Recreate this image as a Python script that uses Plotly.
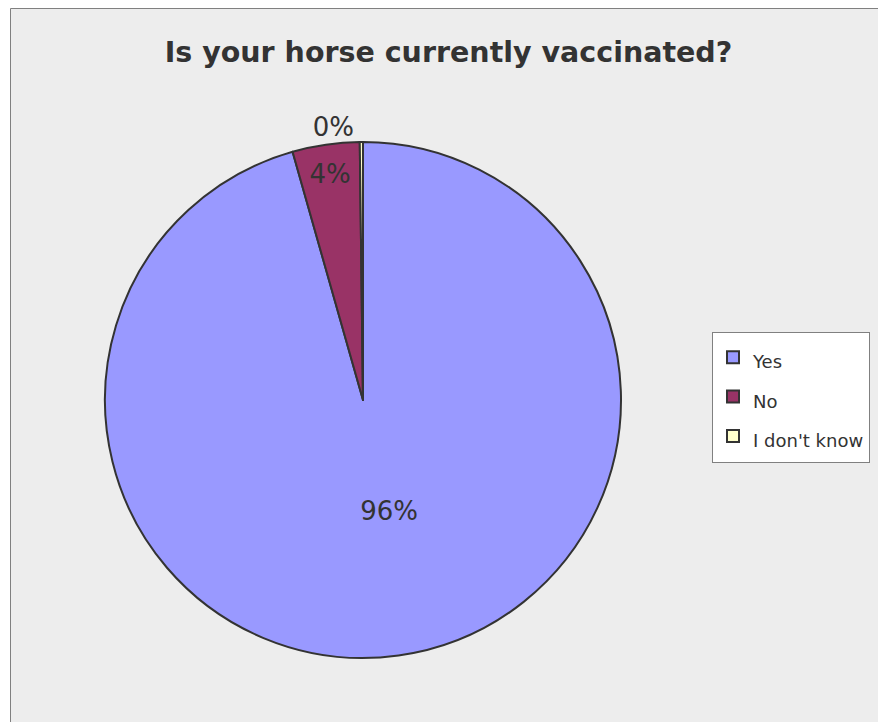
import plotly.graph_objects as go

labels = ["Yes", "No", "I don't know"]
values = [95.6, 4.2, 0.2]
colors = ["#9999FF", "#993366", "#FFFFCC"]
title_text = "Is your horse currently vaccinated?"

W, H = 878, 722
FONT = "DejaVu Sans, Verdana, sans-serif"
TXT = "#333333"
NB = "\u00a0"

legend_labels = ["<span style='font-size:18px'>" + l + "</span>" for l in labels]

fig = go.Figure()
fig.add_trace(go.Pie(
    labels=legend_labels,
    values=values,
    sort=False,
    direction="clockwise",
    rotation=0,
    marker=dict(colors=colors, line=dict(color="#333333", width=2)),
    texttemplate=[NB * 2 + "%{percent:.0%}<br> ", "%{percent:.0%}", "%{percent:.0%}"],
    textposition=["inside", "inside", "outside"],
    insidetextorientation="horizontal",
    textfont=dict(family=FONT, size=26, color=TXT),
    outsidetextfont=dict(family=FONT, size=26, color=TXT),
    domain=dict(x=[105 / W, 621 / W], y=[1 - 658 / H, 1 - 142 / H]),
    hoverinfo="percent",
))

fig.update_layout(
    width=W, height=H, autosize=False,
    margin=dict(l=0, r=0, t=0, b=0),
    paper_bgcolor="white",
    title=dict(text="<b>" + title_text + "</b>", x=448.5 / W, xanchor="center",
               y=1 - 52 / H, yanchor="middle",
               font=dict(family=FONT, size=28.5, color=TXT)),
    legend=dict(
        x=870 / W, y=1 - 397 / H, xanchor="right", yanchor="middle",
        itemwidth=30,
        bgcolor="white", bordercolor="#808080", borderwidth=1,
        font=dict(family=FONT, size=28, color=TXT),
    ),
    shapes=[dict(type="rect", xref="paper", yref="paper",
                 x0=10.5 / W, x1=1.05, y0=-0.05, y1=1 - 8.5 / H,
                 fillcolor="#EDEDED", line=dict(color="#808080", width=1),
                 layer="below")],
)

fig.write_html(
    "out.html",
    config={"displayModeBar": False},
    post_script="document.body.style.margin='0';"
                "document.body.style.overflow='hidden';"
                "document.documentElement.style.overflow='hidden';",
)
